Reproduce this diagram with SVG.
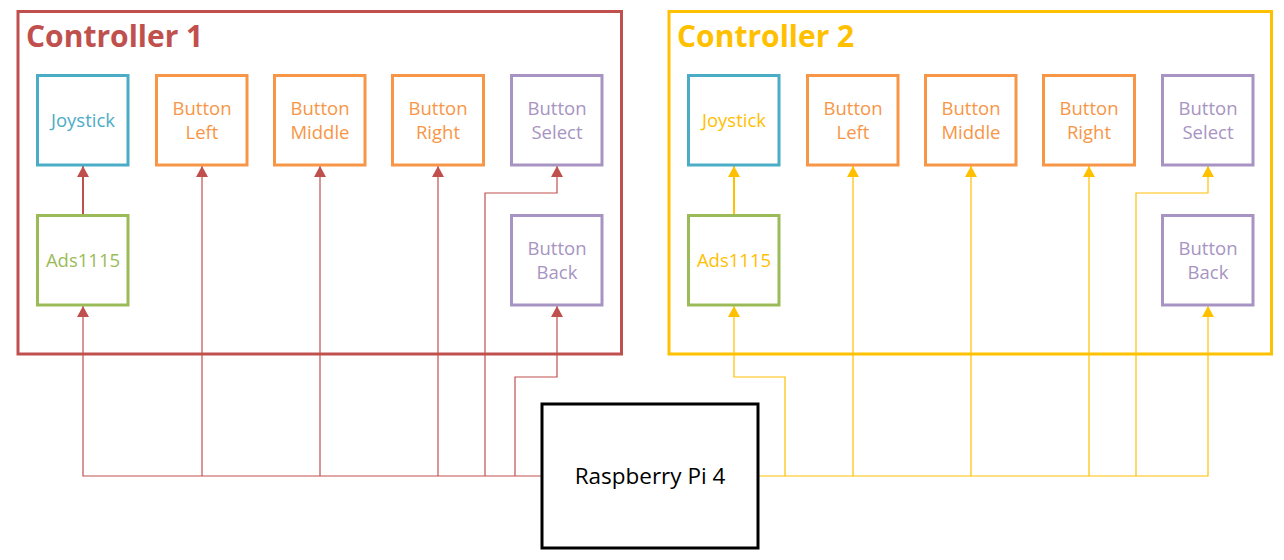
<svg xmlns="http://www.w3.org/2000/svg" width="1284" height="560" viewBox="0 0 1284 560">
<style>
.bg{fill:#ffffff}
.frame{fill:none;stroke-width:3}
.box{fill:#ffffff;stroke-width:3}
.t{font-family:"Open Sans","DejaVu Sans",sans-serif;font-size:18.5px;text-anchor:middle}
.title{font-family:"Open Sans","DejaVu Sans",sans-serif;font-size:30px;font-weight:bold}
.c1{stroke:#C0504D;fill:none;stroke-width:1.2}
.c2{stroke:#FFC000;fill:none;stroke-width:1.2}
.blue{stroke:#4BACC6}.orange{stroke:#F79646}.purple{stroke:#A794C2}.green{stroke:#9BBB59}
.tb{fill:#4BACC6}.to{fill:#F79646}.tp{fill:#A794C2}.tg{fill:#9BBB59}.ty{fill:#FFC000}
</style>
<defs>
<marker id="ar" viewBox="0 0 11 12" refX="11" refY="6" markerWidth="11" markerHeight="12" markerUnits="userSpaceOnUse" orient="auto"><path d="M0,0 L11,6 L0,12 Z" fill="#C0504D"/></marker>
<marker id="ay" viewBox="0 0 11 12" refX="11" refY="6" markerWidth="11" markerHeight="12" markerUnits="userSpaceOnUse" orient="auto"><path d="M0,0 L11,6 L0,12 Z" fill="#FFC000"/></marker>
</defs>
<rect class="bg" x="0" y="0" width="1284" height="560"/>

<g id="controller1">
<rect class="frame" x="18" y="11.5" width="603.5" height="342.5" stroke="#C0504D"/>
<text class="title" x="26" y="47" fill="#C0504D">Controller 1</text>
</g>
<g id="controller2">
<rect class="frame" x="669" y="11.5" width="602.5" height="342.5" stroke="#FFC000"/>
<text class="title" x="677" y="47" fill="#FFC000">Controller 2</text>
</g>

<g id="connectors">
<path class="c1" style="stroke-width:2" d="M83,215 V166" marker-end="url(#ar)"/>
<path class="c1" d="M542,476 H83 V306" marker-end="url(#ar)"/>
<path class="c1" d="M202,476 V166" marker-end="url(#ar)"/>
<path class="c1" d="M320,476 V166" marker-end="url(#ar)"/>
<path class="c1" d="M438,476 V166" marker-end="url(#ar)"/>
<path class="c1" d="M485,476 V193 H557 V166" marker-end="url(#ar)"/>
<path class="c1" d="M515,476 V377 H557 V306" marker-end="url(#ar)"/>
<path class="c2" style="stroke-width:2" d="M734,215 V166" marker-end="url(#ay)"/>
<path class="c2" d="M758,476 H1208 V306" marker-end="url(#ay)"/>
<path class="c2" d="M785,476 V377 H734 V306" marker-end="url(#ay)"/>
<path class="c2" d="M853,476 V166" marker-end="url(#ay)"/>
<path class="c2" d="M971,476 V166" marker-end="url(#ay)"/>
<path class="c2" d="M1089,476 V166" marker-end="url(#ay)"/>
<path class="c2" d="M1136,476 V193 H1208 V166" marker-end="url(#ay)"/>
</g>

<g id="c1-joystick"><rect class="box blue" x="37.5" y="75.5" width="90.5" height="89.5"/><text class="t tb" x="83" y="127">Joystick</text></g>
<g id="c1-left"><rect class="box orange" x="156.5" y="75.5" width="90.5" height="89.5"/><text class="t to" x="202" y="115">Button</text><text class="t to" x="202" y="139">Left</text></g>
<g id="c1-middle"><rect class="box orange" x="274.5" y="75.5" width="90.5" height="89.5"/><text class="t to" x="320" y="115">Button</text><text class="t to" x="320" y="139">Middle</text></g>
<g id="c1-right"><rect class="box orange" x="392.5" y="75.5" width="91" height="89.5"/><text class="t to" x="438" y="115">Button</text><text class="t to" x="438" y="139">Right</text></g>
<g id="c1-select"><rect class="box purple" x="511.5" y="75.5" width="90.5" height="89.5"/><text class="t tp" x="557" y="115">Button</text><text class="t tp" x="557" y="139">Select</text></g>
<g id="c1-ads"><rect class="box green" x="37.5" y="215.5" width="90.5" height="89.5"/><text class="t tg" x="83" y="267">Ads1115</text></g>
<g id="c1-back"><rect class="box purple" x="511.5" y="215.5" width="90.5" height="89.5"/><text class="t tp" x="557" y="255">Button</text><text class="t tp" x="557" y="279">Back</text></g>

<g id="c2-joystick"><rect class="box blue" x="688.5" y="75.5" width="90.5" height="89.5"/><text class="t ty" x="734" y="127">Joystick</text></g>
<g id="c2-left"><rect class="box orange" x="807.5" y="75.5" width="90.5" height="89.5"/><text class="t to" x="853" y="115">Button</text><text class="t to" x="853" y="139">Left</text></g>
<g id="c2-middle"><rect class="box orange" x="925.5" y="75.5" width="90.5" height="89.5"/><text class="t to" x="971" y="115">Button</text><text class="t to" x="971" y="139">Middle</text></g>
<g id="c2-right"><rect class="box orange" x="1043.5" y="75.5" width="91" height="89.5"/><text class="t to" x="1089" y="115">Button</text><text class="t to" x="1089" y="139">Right</text></g>
<g id="c2-select"><rect class="box purple" x="1162.5" y="75.5" width="90.5" height="89.5"/><text class="t tp" x="1208" y="115">Button</text><text class="t tp" x="1208" y="139">Select</text></g>
<g id="c2-ads"><rect class="box green" x="688.5" y="215.5" width="90.5" height="89.5"/><text class="t ty" x="734" y="267">Ads1115</text></g>
<g id="c2-back"><rect class="box purple" x="1162.5" y="215.5" width="90.5" height="89.5"/><text class="t tp" x="1208" y="255">Button</text><text class="t tp" x="1208" y="279">Back</text></g>

<g id="raspberry-pi">
<rect x="542" y="404" width="216" height="144" fill="#ffffff" stroke="#000000" stroke-width="3"/>
<text x="650" y="484" font-family="'Open Sans','DejaVu Sans',sans-serif" font-size="22.5" text-anchor="middle" fill="#000000">Raspberry Pi 4</text>
</g>
</svg>
